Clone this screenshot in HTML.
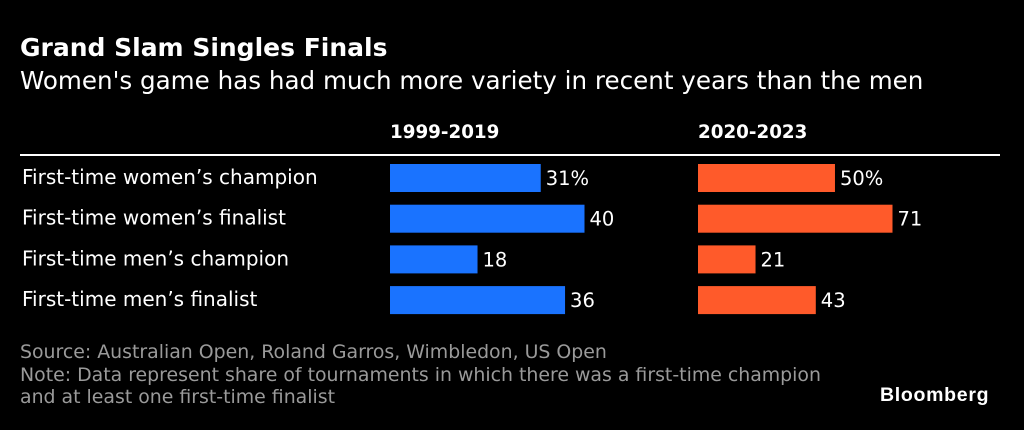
<!DOCTYPE html>
<html><head><meta charset="utf-8"><style>
body{margin:0;width:1024px;height:430px;background:#000;overflow:hidden;font-family:"DejaVu Sans","Liberation Sans",sans-serif;color:#fff;position:relative}
.t{position:absolute;white-space:nowrap}
</style></head><body>
<div class="t" style="left:20px;top:33px;font-size:25px;font-weight:bold">Grand Slam Singles Finals</div>
<div class="t" style="left:20px;top:66px;font-size:24.6px">Women's game has had much more variety in recent years than the men</div>
<svg id="chart" width="1024" height="430" style="position:absolute;left:0;top:0;font-family:'DejaVu Sans',sans-serif"></svg>
<div class="t" style="left:20px;top:341px;font-size:18.9px;color:#9a9a9a;line-height:22.5px">Source: Australian Open, Roland Garros, Wimbledon, US Open<br>Note: Data represent share of tournaments in which there was a first-time champion<br>and at least one first-time finalist</div>
<div class="t" style="left:880px;top:384px;font-size:19.5px;font-weight:bold;font-family:'Liberation Sans',sans-serif;letter-spacing:0.7px">Bloomberg</div>
<script>
const categories=["First-time women’s champion","First-time women’s finalist","First-time men’s champion","First-time men’s finalist"];
const series1=[31,40,18,36];
const series2=[50,71,21,43];
const labels1=["31%","40","18","36"];
const labels2=["50%","71","21","43"];
const periods=["1999-2019","2020-2023"];
const ns="http://www.w3.org/2000/svg";
const svg=document.getElementById('chart');
function el(t,a){const e=document.createElementNS(ns,t);for(const k in a)e.setAttribute(k,a[k]);svg.appendChild(e);return e;}
const rowY=i=>164+i*40.7;
const panels=[{x0:390,vals:series1,labs:labels1,color:"#1a73ff"},{x0:698,vals:series2,labs:labels2,color:"#ff5a2a"}];
periods.forEach((p,j)=>{const t=el('text',{x:panels[j].x0,y:138,'font-size':18.3,'font-weight':'bold',fill:'#fff'});t.textContent=p;

});
const ln=el('line',{x1:20,x2:1000,y1:155,y2:155,stroke:'#fff','stroke-width':2});


categories.forEach((c,i)=>{const t=el('text',{x:22,y:rowY(i)+20,'font-size':20,fill:'#fff'});t.textContent=c;

});
panels.forEach((p,j)=>{const mx=Math.max(...p.vals);const sx=v=>v/mx*194.5;
p.vals.forEach((v,i)=>{const r=el('rect',{x:p.x0,y:rowY(i),width:sx(v),height:28,fill:p.color});


const t=el('text',{x:p.x0+sx(v)+5,y:rowY(i)+21,'font-size':19.5,fill:'#fff'});t.textContent=p.labs[i];

});});
</script>
</body></html>
